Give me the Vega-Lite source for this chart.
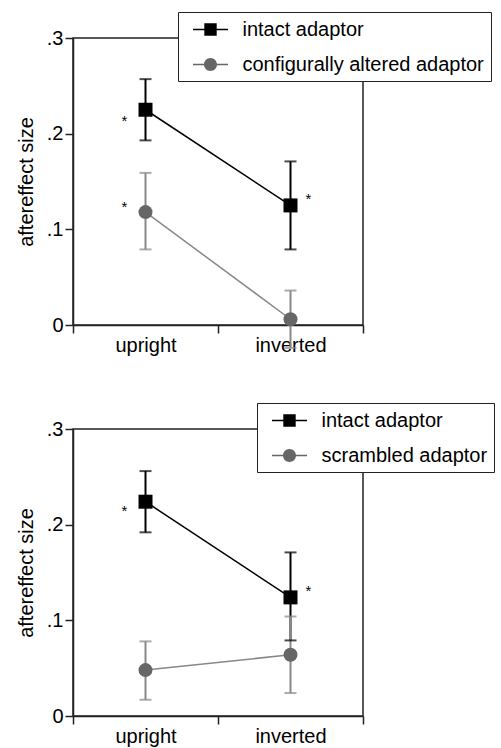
{
  "$schema": "https://vega.github.io/schema/vega-lite/v6.json",
  "padding": {"left": 15, "top": 10, "right": 0, "bottom": 0},
  "spacing": 45,
  "background": "white",
  "config": {
    "font": "Liberation Sans",
    "view": {"stroke": "#222", "strokeWidth": 1.5},
    "axis": {"labelFont": "Liberation Sans", "titleFont": "Liberation Sans", "labelColor": "black", "titleColor": "black", "domainColor": "#222", "tickColor": "#222", "domainWidth": 1.5, "tickWidth": 1.5, "grid": false},
    "legend": {"labelLimit": 0, "title": null, "strokeColor": "#222", "fillColor": "white", "padding": 6.5, "labelFontSize": 20, "labelFont": "Liberation Sans", "labelColor": "black", "labelOffset": 21, "rowPadding": 14, "symbolSize": 400, "symbolOffset": 15, "symbolOpacity": 1}
  },
  "resolve": {"scale": {"color": "independent", "shape": "independent", "stroke": "independent", "fill": "independent"}},
  "datasets": {
    "top": [
      {"series": "intact adaptor", "condition": "upright", "value": 0.225, "lo": 0.193, "hi": 0.257},
      {"series": "intact adaptor", "condition": "inverted", "value": 0.125, "lo": 0.079, "hi": 0.171},
      {"series": "configurally altered adaptor", "condition": "upright", "value": 0.118, "lo": 0.079, "hi": 0.159},
      {"series": "configurally altered adaptor", "condition": "inverted", "value": 0.006, "lo": -0.024, "hi": 0.036}
    ],
    "bottom": [
      {"series": "intact adaptor", "condition": "upright", "value": 0.224, "lo": 0.192, "hi": 0.256},
      {"series": "intact adaptor", "condition": "inverted", "value": 0.124, "lo": 0.079, "hi": 0.171},
      {"series": "scrambled adaptor", "condition": "upright", "value": 0.048, "lo": 0.017, "hi": 0.078},
      {"series": "scrambled adaptor", "condition": "inverted", "value": 0.064, "lo": 0.024, "hi": 0.104}
    ],
    "stars_top": [
      {"condition": "upright", "y": 0.216},
      {"condition": "upright", "y": 0.126},
      {"condition": "inverted", "y": 0.135}
    ],
    "stars_bottom": [
      {"condition": "upright", "y": 0.217},
      {"condition": "inverted", "y": 0.134}
    ]
  },
  "vconcat": [
    {
      "width": 290,
      "height": 287,
      "data": {"name": "top"},
      "encoding": {
        "x": {"field": "condition", "type": "nominal", "sort": ["upright", "inverted"], "scale": {"type": "band", "paddingInner": 0, "paddingOuter": 0}, "axis": {"title": null, "tickBand": "extent", "labelAngle": 0, "labelFontSize": 20, "labelPadding": 2, "tickSize": 8}}
      },
      "layer": [
        {
          "mark": {"type": "rule", "strokeWidth": 2},
          "encoding": {
            "y": {"field": "lo", "type": "quantitative", "scale": {"domain": [0, 0.3]}, "axis": {"title": "aftereffect size", "titleFontSize": 20, "titleFontWeight": "normal", "titlePadding": 10, "values": [0, 0.1, 0.2, 0.3], "labelExpr": "datum.value == 0 ? '0' : replace(format(datum.value, '.1f'), '0.', '.')", "labelFontSize": 20, "tickSize": 8, "labelPadding": 2}},
            "y2": {"field": "hi"},
            "stroke": {"field": "series", "type": "nominal", "scale": {"domain": ["configurally altered adaptor", "intact adaptor"], "range": ["#888888", "#000000"]}, "legend": null}
          }
        },
        {
          "mark": {"type": "tick", "size": 12, "thickness": 2},
          "encoding": {
            "y": {"field": "lo", "type": "quantitative"},
            "fill": {"field": "series", "type": "nominal", "scale": {"domain": ["configurally altered adaptor", "intact adaptor"], "range": ["#888888", "#000000"]}, "legend": null}
          }
        },
        {
          "mark": {"type": "tick", "size": 12, "thickness": 2},
          "encoding": {
            "y": {"field": "hi", "type": "quantitative"},
            "fill": {"field": "series", "type": "nominal", "legend": null}
          }
        },
        {
          "mark": {"type": "line", "strokeWidth": 1.5},
          "encoding": {
            "y": {"field": "value", "type": "quantitative"},
            "detail": {"field": "series"},
            "stroke": {"field": "series", "type": "nominal", "legend": null}
          }
        },
        {
          "transform": [{"filter": "datum.series === 'intact adaptor'"}],
          "mark": {"type": "point", "filled": true, "size": 196, "opacity": 1, "shape": "square", "color": "#000000"},
          "encoding": {"y": {"field": "value", "type": "quantitative"}}
        },
        {
          "transform": [{"filter": "datum.series !== 'intact adaptor'"}],
          "mark": {"type": "point", "filled": true, "size": 196, "opacity": 1, "shape": "circle", "color": "#666666"},
          "encoding": {"y": {"field": "value", "type": "quantitative"}}
        },
        {
          "mark": {"type": "point", "filled": true, "size": 400, "opacity": 0},
          "encoding": {
            "y": {"field": "value", "type": "quantitative"},
            "color": {"field": "series", "type": "nominal", "scale": {"domain": ["intact adaptor", "configurally altered adaptor"], "range": ["#000000", "#666666"]},
              "legend": {"orient": "none", "legendX": 105, "legendY": -26}},
            "shape": {"field": "series", "type": "nominal", "scale": {"domain": ["intact adaptor", "configurally altered adaptor"], "range": ["M-1.75,-0.075H-0.6V0.075H-1.75ZM0.6,-0.075H1.75V0.075H0.6ZM-0.62,-0.62H0.62V0.62H-0.62Z", "M-1.75,-0.075H-0.6V0.075H-1.75ZM0.6,-0.075H1.75V0.075H0.6ZM0.65,0A0.65,0.65 0 1,1 -0.65,0A0.65,0.65 0 1,1 0.65,0Z"]},
              "legend": {"orient": "none", "legendX": 105, "legendY": -26}}
          }
        },
        {
          "data": {"name": "stars_top"},
          "transform": [{"filter": "datum.condition === 'upright'"}],
          "mark": {"type": "text", "text": "*", "fontSize": 15, "dx": -21, "dy": 3, "color": "black"},
          "encoding": {"y": {"field": "y", "type": "quantitative"}}
        },
        {
          "data": {"name": "stars_top"},
          "transform": [{"filter": "datum.condition === 'inverted'"}],
          "mark": {"type": "text", "text": "*", "fontSize": 15, "dx": 18, "dy": 3, "color": "black"},
          "encoding": {"y": {"field": "y", "type": "quantitative"}}
        }
      ]
    },
    {
      "width": 290,
      "height": 287,
      "data": {"name": "bottom"},
      "encoding": {
        "x": {"field": "condition", "type": "nominal", "sort": ["upright", "inverted"], "scale": {"type": "band", "paddingInner": 0, "paddingOuter": 0}, "axis": {"title": null, "tickBand": "extent", "labelAngle": 0, "labelFontSize": 20, "labelPadding": 2, "tickSize": 8}}
      },
      "layer": [
        {
          "mark": {"type": "rule", "strokeWidth": 2},
          "encoding": {
            "y": {"field": "lo", "type": "quantitative", "scale": {"domain": [0, 0.3]}, "axis": {"title": "aftereffect size", "titleFontSize": 20, "titleFontWeight": "normal", "titlePadding": 10, "values": [0, 0.1, 0.2, 0.3], "labelExpr": "datum.value == 0 ? '0' : replace(format(datum.value, '.1f'), '0.', '.')", "labelFontSize": 20, "tickSize": 8, "labelPadding": 2}},
            "y2": {"field": "hi"},
            "stroke": {"field": "series", "type": "nominal", "scale": {"domain": ["scrambled adaptor", "intact adaptor"], "range": ["#888888", "#000000"]}, "legend": null}
          }
        },
        {
          "mark": {"type": "tick", "size": 12, "thickness": 2},
          "encoding": {
            "y": {"field": "lo", "type": "quantitative"},
            "fill": {"field": "series", "type": "nominal", "scale": {"domain": ["scrambled adaptor", "intact adaptor"], "range": ["#888888", "#000000"]}, "legend": null}
          }
        },
        {
          "mark": {"type": "tick", "size": 12, "thickness": 2},
          "encoding": {
            "y": {"field": "hi", "type": "quantitative"},
            "fill": {"field": "series", "type": "nominal", "legend": null}
          }
        },
        {
          "mark": {"type": "line", "strokeWidth": 1.5},
          "encoding": {
            "y": {"field": "value", "type": "quantitative"},
            "detail": {"field": "series"},
            "stroke": {"field": "series", "type": "nominal", "legend": null}
          }
        },
        {
          "transform": [{"filter": "datum.series === 'intact adaptor'"}],
          "mark": {"type": "point", "filled": true, "size": 196, "opacity": 1, "shape": "square", "color": "#000000"},
          "encoding": {"y": {"field": "value", "type": "quantitative"}}
        },
        {
          "transform": [{"filter": "datum.series !== 'intact adaptor'"}],
          "mark": {"type": "point", "filled": true, "size": 196, "opacity": 1, "shape": "circle", "color": "#666666"},
          "encoding": {"y": {"field": "value", "type": "quantitative"}}
        },
        {
          "mark": {"type": "point", "filled": true, "size": 400, "opacity": 0},
          "encoding": {
            "y": {"field": "value", "type": "quantitative"},
            "color": {"field": "series", "type": "nominal", "scale": {"domain": ["intact adaptor", "scrambled adaptor"], "range": ["#000000", "#666666"]},
              "legend": {"orient": "none", "legendX": 184, "legendY": -26}},
            "shape": {"field": "series", "type": "nominal", "scale": {"domain": ["intact adaptor", "scrambled adaptor"], "range": ["M-1.75,-0.075H-0.6V0.075H-1.75ZM0.6,-0.075H1.75V0.075H0.6ZM-0.62,-0.62H0.62V0.62H-0.62Z", "M-1.75,-0.075H-0.6V0.075H-1.75ZM0.6,-0.075H1.75V0.075H0.6ZM0.65,0A0.65,0.65 0 1,1 -0.65,0A0.65,0.65 0 1,1 0.65,0Z"]},
              "legend": {"orient": "none", "legendX": 184, "legendY": -26}}
          }
        },
        {
          "data": {"name": "stars_bottom"},
          "transform": [{"filter": "datum.condition === 'upright'"}],
          "mark": {"type": "text", "text": "*", "fontSize": 15, "dx": -21, "dy": 3, "color": "black"},
          "encoding": {"y": {"field": "y", "type": "quantitative"}}
        },
        {
          "data": {"name": "stars_bottom"},
          "transform": [{"filter": "datum.condition === 'inverted'"}],
          "mark": {"type": "text", "text": "*", "fontSize": 15, "dx": 18, "dy": 3, "color": "black"},
          "encoding": {"y": {"field": "y", "type": "quantitative"}}
        }
      ]
    }
  ]
}
